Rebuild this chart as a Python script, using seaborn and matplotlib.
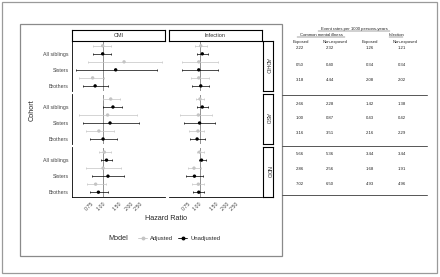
import pandas as pd
import seaborn as sns
import matplotlib.pyplot as plt
from matplotlib.patches import Rectangle
from matplotlib.lines import Line2D
from matplotlib.ticker import NullLocator, FixedLocator, FixedFormatter

sns.set_style("white")
plt.rcParams['font.family'] = ['Liberation Sans', 'DejaVu Sans']

# ---- data ----
outcomes = ["CMI", "Infection"]
disorders = ["ADHD", "ASD", "NDD"]
cohorts = ["All siblings", "Sisters", "Brothers"]

# order: ADHD (all, sisters, brothers), ASD (...), NDD (...)
cmi_adj_est = [0.99, 1.69, 0.77, 1.21, 1.12, 0.90, 1.03, 1.00, 0.83]
cmi_adj_lo = [0.77, 0.68, 0.55, 0.99, 0.55, 0.65, 0.90, 0.65, 0.67]
cmi_adj_hi = [1.21, 4.40, 1.03, 1.53, 2.36, 1.32, 1.23, 1.56, 1.07]
cmi_unadj_est = [0.99, 1.37, 0.82, 1.28, 1.19, 1.00, 1.09, 1.13, 0.89]
cmi_unadj_lo = [0.78, 0.51, 0.60, 1.00, 0.60, 0.72, 0.94, 0.75, 0.72]
cmi_unadj_hi = [1.23, 3.88, 1.14, 1.62, 2.46, 1.40, 1.26, 1.69, 1.12]
inf_adj_est = [1.03, 0.98, 0.98, 1.01, 0.97, 0.96, 1.00, 0.87, 0.97]
inf_adj_lo = [0.90, 0.64, 0.80, 0.92, 0.62, 0.77, 0.94, 0.75, 0.83]
inf_adj_hi = [1.21, 1.58, 1.26, 1.11, 1.35, 1.13, 1.11, 1.03, 1.11]
inf_unadj_est = [1.07, 0.98, 1.03, 1.07, 1.00, 0.94, 1.05, 0.88, 0.98]
inf_unadj_lo = [0.94, 0.64, 0.82, 0.94, 0.68, 0.78, 0.98, 0.72, 0.85]
inf_unadj_hi = [1.24, 1.59, 1.26, 1.23, 1.47, 1.14, 1.16, 1.09, 1.13]

x_breaks = [0.75, 1.00, 1.50, 2.00, 2.50]
x_labels = ["0.75", "1.00", "1.50", "2.00", "2.50"]

# event rates per 1000 person-years (same row order)
rate_cmi_exp = [2.22, 0.50, 3.18, 2.66, 1.00, 3.16, 5.66, 2.86, 7.02]
rate_cmi_non = [2.32, 0.40, 4.44, 2.28, 0.87, 3.51, 5.36, 2.56, 6.50]
rate_inf_exp = [1.26, 0.34, 2.08, 1.42, 0.43, 2.16, 3.44, 1.68, 4.93]
rate_inf_non = [1.21, 0.34, 2.02, 1.38, 0.42, 2.29, 3.44, 1.91, 4.96]

series = {
    ("CMI", "Adjusted"): (cmi_adj_est, cmi_adj_lo, cmi_adj_hi),
    ("CMI", "Unadjusted"): (cmi_unadj_est, cmi_unadj_lo, cmi_unadj_hi),
    ("Infection", "Adjusted"): (inf_adj_est, inf_adj_lo, inf_adj_hi),
    ("Infection", "Unadjusted"): (inf_unadj_est, inf_unadj_lo, inf_unadj_hi),
}
rows = []
for (outc, model), (est, lo, hi) in series.items():
    for i in range(9):
        d = disorders[i // 3]
        c = cohorts[i % 3]
        pos = (i % 3) * 2 + (1 if model == "Unadjusted" else 0)
        rows.append(dict(outcome=outc, Model=model, disorder=d, cohort=c,
                         pos=pos, est=est[i], lo=lo[i], hi=hi[i]))
df = pd.DataFrame(rows)

W, H = 440, 277
def fx(p): return p / W
def fy(p): return 1 - p / H
def rect(x0, y0, x1, y1): return [fx(x0), fy(y1), (x1 - x0) / W, (y1 - y0) / H]

fig = plt.figure(figsize=(4.4, 2.77), dpi=100)

# frames
fig.add_artist(Rectangle((fx(2), fy(273)), fx(435), 271 / H, transform=fig.transFigure,
                         fill=False, ec="#9a9a9a", lw=0.9))
fig.add_artist(Rectangle((fx(20), fy(256)), fx(262), 232 / H, transform=fig.transFigure,
                         fill=False, ec="#8a8a8a", lw=0.9))

palette = {"Adjusted": "#c4c4c4", "Unadjusted": "black"}
col_x = [(72, 165), (168.5, 261.5)]
row_y = [(41, 90.7), (94.2, 143.8), (147.3, 197)]

for ci, outc in enumerate(outcomes):
    for ri, dis in enumerate(disorders):
        x0, x1 = col_x[ci]
        y0, y1 = row_y[ri]
        ax = fig.add_axes(rect(x0, y0, x1, y1))
        ax.set_xscale("log")
        sub = df[(df.outcome == outc) & (df.disorder == dis)]
        ax.axvline(1, ls=(0, (1.2, 1.2)), color="black", lw=0.6, zorder=1)
        for model, col in palette.items():
            m = sub[sub.Model == model]
            ax.errorbar(m.est, m.pos, xerr=[m.est - m.lo, m.hi - m.est], fmt="none",
                        ecolor=col, elinewidth=0.5, capsize=0.8, capthick=0.5, zorder=2)
        sns.scatterplot(data=sub, x="est", y="pos", hue="Model", palette=palette,
                        s=6, linewidth=0, legend=False, ax=ax, zorder=3)
        ax.set_xlim(0.46, 4.7)
        ax.set_ylim(5.6, -0.6)
        ax.set_xlabel("")
        ax.set_ylabel("")
        ax.xaxis.set_minor_locator(NullLocator())
        ax.xaxis.set_major_locator(FixedLocator(x_breaks))
        for s in ["top", "right"]:
            ax.spines[s].set_visible(False)
        ax.spines["left"].set_visible(ci == 0)
        ax.spines["bottom"].set_visible(ri == 2)
        for s in ["left", "bottom"]:
            ax.spines[s].set_linewidth(0.6)
            ax.spines[s].set_color("black")
        ax.tick_params(length=1.5, width=0.5, pad=1, labelsize=3.8, labelcolor="#444444")
        if ci == 0:
            ax.set_yticks(range(6))
            ax.set_yticklabels(["", "All siblings", "", "Sisters", "", "Brothers"])
        else:
            ax.set_yticks([])
        if ri == 2:
            ax.xaxis.set_major_formatter(FixedFormatter(x_labels))
            for lab in ax.get_xticklabels():
                lab.set_rotation(45)
                lab.set_ha("right")
                lab.set_rotation_mode("anchor")
        else:
            ax.tick_params(axis="x", bottom=False, labelbottom=False)

# strips
for ci, outc in enumerate(outcomes):
    x0, x1 = col_x[ci]
    sa = fig.add_axes(rect(x0, 30, x1, 41))
    sa.set_xticks([]); sa.set_yticks([])
    for s in sa.spines.values():
        s.set_linewidth(0.8); s.set_color("black")
    sa.text(0.5, 0.5, outc, ha="center", va="center", fontsize=4, color="#333333",
            transform=sa.transAxes)
for ri, dis in enumerate(disorders):
    y0, y1 = row_y[ri]
    sa = fig.add_axes(rect(262.5, y0, 273, y1))
    sa.set_xticks([]); sa.set_yticks([])
    for s in sa.spines.values():
        s.set_linewidth(0.8); s.set_color("black")
    sa.text(0.5, 0.5, dis, ha="center", va="center", fontsize=4, color="#333333",
            rotation=-90, transform=sa.transAxes)

# axis titles
fig.text(fx(166), fy(218), "Hazard Ratio", ha="center", va="center", fontsize=5.2)
fig.text(fx(32), fy(110), "Cohort", ha="center", va="center", fontsize=5.2, rotation=90)

# legend
fig.text(fx(118), fy(238), "Model", ha="center", va="center", fontsize=5.2)
handles = [Line2D([], [], color=palette[m], marker="o", markersize=1.8, lw=0.6) for m in palette]
fig.legend(handles, list(palette), loc="center", bbox_to_anchor=(fx(179), fy(238)), ncol=2,
           frameon=False, fontsize=4.2, handlelength=1.6, handletextpad=0.5,
           columnspacing=0.8, borderpad=0)

# event-rate table
def utext(x, y, s, x0, x1, size=3.1):
    fig.text(fx(x), fy(y), s, ha="center", va="center", fontsize=size, color="#222222")
    fig.add_artist(Line2D([fx(x0), fx(x1)], [fy(y + 2.3)] * 2, transform=fig.transFigure,
                          color="#222222", lw=0.3))

utext(354, 29, "Event rates per 1000 persons-years", 318, 390)
utext(321, 34.5, "Common mental illness", 297, 345)
utext(396, 34.5, "Infection", 389, 403)
for x, s in zip([301, 335, 370, 405], ["Exposed", "Non-exposed", "Exposed", "Non-exposed"]):
    fig.text(fx(x), fy(42.3), s, ha="center", va="center", fontsize=3.1, color="#222222")

table_y = [48.3, 65, 80, 104, 118.3, 132.7, 154.3, 169.3, 184.3]
table_x = [300, 330, 370, 402]
for j, vals in enumerate([rate_cmi_exp, rate_cmi_non, rate_inf_exp, rate_inf_non]):
    for i, v in enumerate(vals):
        fig.text(fx(table_x[j]), fy(table_y[i]), f"{v:.2f}", ha="center", va="center",
                 fontsize=3.1, color="#222222")
for yl in [95, 145.7, 195]:
    fig.add_artist(Line2D([fx(282), fx(427)], [fy(yl)] * 2, transform=fig.transFigure,
                          color="#555555", lw=0.7))

fig.savefig("out.png", dpi=100)
